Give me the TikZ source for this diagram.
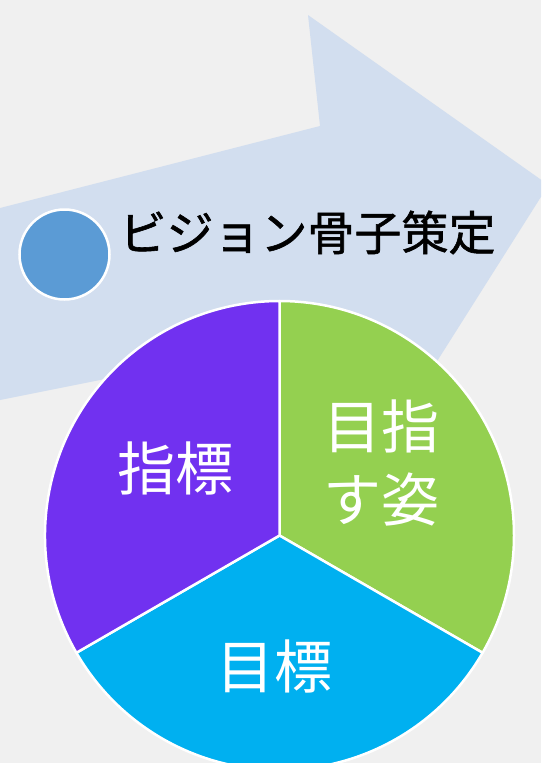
\documentclass[tikz,border=0pt]{standalone}
\usepackage{fontspec}
\newfontfamily\jp{Noto Sans CJK JP}
\newfontfamily\jpt[FakeBold=1.2]{Noto Sans CJK JP}
\definecolor{bgc}{HTML}{F0F0F0}
\definecolor{arrowc}{HTML}{D2DEEF}
\definecolor{dotc}{HTML}{5B9BD5}
\definecolor{purplec}{HTML}{7131F0}
\definecolor{greenc}{HTML}{94D050}
\definecolor{bluec}{HTML}{00B0F0}
\begin{document}
\begin{tikzpicture}[x=1pt,y=1pt,
  sector/.style={draw=white,line width=2.5pt,line join=round},
  label/.style={text=white,inner sep=0pt,align=center,font=\jp\fontsize{58}{73}\selectfont},
  title/.style={text=black,inner sep=0pt,anchor=center,font=\jpt\fontsize{47}{47}\selectfont}]
\useasboundingbox (0,0) rectangle (541,-763);
\begin{scope}
\clip (0,0) rectangle (541,-763);
\fill[bgc] (0,0) rectangle (541,-763);
% big arrow
\fill[arrowc] (-5,-209.3) -- (320,-126) -- (308,-15) -- (548.5,-185) -- (355,-491) -- (335,-333) -- (-5,-401) -- cycle;
% pie
\coordinate (c) at (279.5,-535.5);
\def\R{234.5}
\filldraw[sector,fill=greenc] (c) -- ++(90:\R) arc[start angle=90,end angle=-30,radius=\R] -- cycle;
\filldraw[sector,fill=bluec] (c) -- ++(-30:\R) arc[start angle=-30,end angle=-150,radius=\R] -- cycle;
\filldraw[sector,fill=purplec] (c) -- ++(-150:\R) arc[start angle=-150,end angle=-270,radius=\R] -- cycle;
\end{scope}
% dot and title
\node[circle,fill=dotc,draw=white,line width=2.5pt,minimum size=90pt,inner sep=0pt] (dot) at (64.5,-254.5) {};
\node[title] (t) at (307.5,-232.5) {ビジョン骨子策定};
% labels
\node[label] (l1) at (175,-468) {指標};
\node[label] (l2) at (381,-463) {目指\\す姿};
\node[label] (l3) at (274,-666.5) {目標};
\end{tikzpicture}
\end{document}
